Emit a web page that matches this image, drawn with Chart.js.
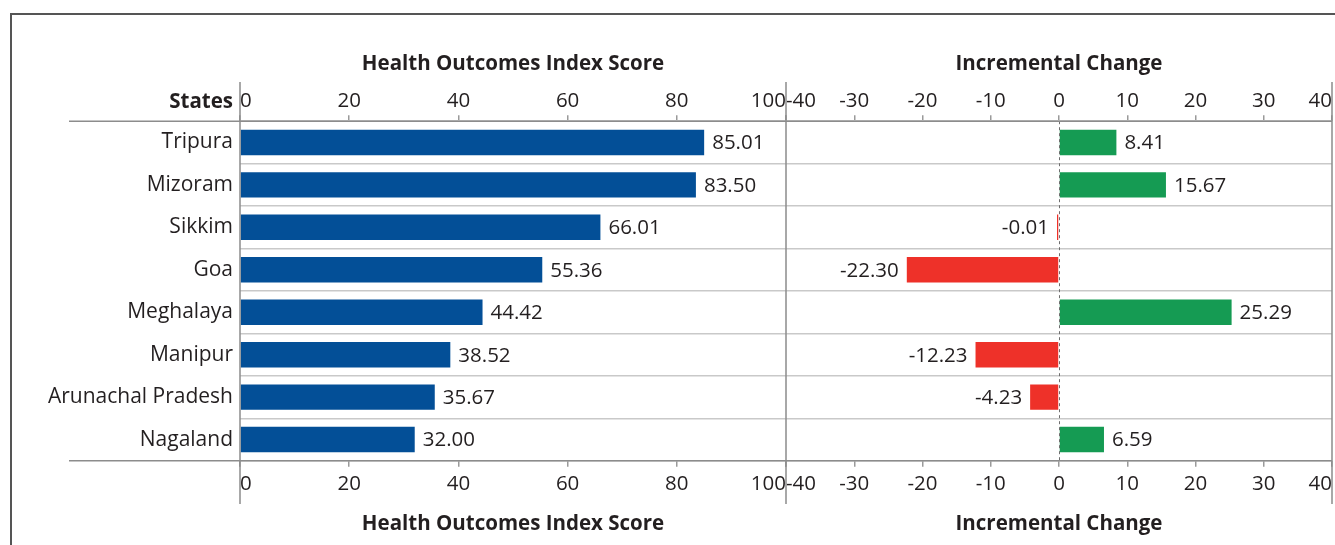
<!DOCTYPE html>
<html>
<head>
<meta charset="utf-8">
<script src="https://cdn.jsdelivr.net/npm/chart.js@4.4.1/dist/chart.umd.min.js"></script>
<style>
  html, body { margin: 0; padding: 0; background: #fff; }
  #wrap { width: 1335px; height: 545px; position: relative; }
</style>
</head>
<body>
<div id="wrap"><canvas id="chart" width="1335" height="545"></canvas></div>
<script>
// data
const states = ["Tripura", "Mizoram", "Sikkim", "Goa", "Meghalaya", "Manipur", "Arunachal Pradesh", "Nagaland"];
const scores = [85.01, 83.50, 66.01, 55.36, 44.42, 38.52, 35.67, 32.00];
const changes = [8.41, 15.67, -0.01, -22.30, 25.29, -12.23, -4.23, 6.59];

const scoreRange = [0, 100];
const scoreStep = 20;
const changeRange = [-40, 40];
const changeStep = 10;

const scoreTitle = "Health Outcomes Index Score";
const changeTitle = "Incremental Change";
const rowHeader = "States";

const TEXT = "#231f20";
const FONT = "'Open Sans', sans-serif";
const LINE = "#8c8c8c";

const tickFont = { family: FONT, size: 20.5 };
const titleFont = { family: FONT, size: 20.5, weight: "bold" };

// one x axis (top or bottom) for either panel; weight keeps left/right order in the stack
function xAxis(range, step, pos, title, weight) {
  return {
    type: "linear",
    position: pos,
    stack: pos,
    stackWeight: 1,
    weight: weight,
    min: range[0],
    max: range[1],
    border: { display: false },
    grid: { drawOnChartArea: false, drawTicks: true, tickLength: 6, color: "#9a9a9a", lineWidth: 1.5 },
    ticks: {
      stepSize: step,
      autoSkip: false,
      maxRotation: 0,
      align: "inner",
      padding: pos === "top" ? 2 : 5,
      color: TEXT,
      font: tickFont,
    },
    title: {
      display: true,
      text: title,
      color: TEXT,
      font: titleFont,
      padding: pos === "top" ? { top: 0, bottom: 10 } : { top: 10, bottom: 0 },
    },
    afterFit(scale) {
      // labels are aligned inside, so no side padding is needed
      scale.paddingLeft = 0;
      scale.paddingRight = 0;
    },
  };
}

const framePlugin = {
  id: "frame",
  afterDatasetsDraw(chart) {
    const ctx = chart.ctx;
    const area = chart.chartArea;
    const xR = chart.scales.xR;
    // dashed zero line of the change panel
    const zx = Math.round(xR.getPixelForValue(0)) + 0.5;
    ctx.save();
    ctx.strokeStyle = "#6e6e6e";
    ctx.lineWidth = 1;
    ctx.setLineDash([3, 3]);
    ctx.beginPath();
    ctx.moveTo(zx, area.top);
    ctx.lineTo(zx, area.bottom);
    ctx.stroke();
    ctx.restore();

    // value labels next to each bar
    ctx.save();
    ctx.font = "20.5px " + FONT;
    ctx.fillStyle = TEXT;
    ctx.textBaseline = "middle";
    chart.data.datasets.forEach((ds, di) => {
      const meta = chart.getDatasetMeta(di);
      meta.data.forEach((bar, i) => {
        const v = ds.data[i];
        const label = v.toFixed(2);
        if (v >= 0) {
          ctx.textAlign = "left";
          ctx.fillText(label, bar.x + 8, bar.y + 1);
        } else {
          ctx.textAlign = "right";
          ctx.fillText(label, bar.x - 8, bar.y + 1);
        }
      });
    });
    ctx.restore();
  },
  afterDraw(chart) {
    const ctx = chart.ctx;
    const area = chart.chartArea;
    const xL = chart.scales.xL;
    const xR = chart.scales.xR;
    ctx.save();
    // outer frame
    ctx.strokeStyle = "#555";
    ctx.lineWidth = 2;
    ctx.beginPath();
    ctx.moveTo(11, 560);
    ctx.lineTo(11, 14);
    ctx.lineTo(1350, 14);
    ctx.stroke();

    ctx.strokeStyle = LINE;
    ctx.lineWidth = 1.5;
    ctx.beginPath();
    ctx.moveTo(69, area.top);
    ctx.lineTo(area.right, area.top);
    ctx.moveTo(69, area.bottom);
    ctx.lineTo(area.right, area.bottom);
    [xL.left, xL.right, xR.right].forEach((x) => {
      ctx.moveTo(x, 82);
      ctx.lineTo(x, 504);
    });
    ctx.stroke();

    ctx.fillStyle = TEXT;
    ctx.font = "bold 20.5px " + FONT;
    ctx.textAlign = "right";
    ctx.textBaseline = "middle";
    ctx.fillText(rowHeader, area.left - 7, 102);
    ctx.restore();
  },
};

new Chart(document.getElementById("chart"), {
  type: "bar",
  data: {
    labels: states,
    datasets: [
      {
        label: scoreTitle,
        data: scores,
        xAxisID: "xL",
        backgroundColor: "#034f97",
        grouped: false,
        barPercentage: 0.6,
        categoryPercentage: 1,
      },
      {
        label: changeTitle,
        data: changes,
        xAxisID: "xR",
        backgroundColor: changes.map((v) => (v >= 0 ? "#159b53" : "#ee3129")),
        grouped: false,
        barPercentage: 0.6,
        categoryPercentage: 1,
        minBarLength: 2,
      },
    ],
  },
  options: {
    indexAxis: "y",
    responsive: false,
    animation: false,
    devicePixelRatio: 1,
    layout: { padding: { top: 52, left: 40, right: 3, bottom: 9 } },
    plugins: { legend: { display: false }, tooltip: { enabled: false } },
    scales: {
      xL: xAxis(scoreRange, scoreStep, "top", scoreTitle, 1),
      xR: xAxis(changeRange, changeStep, "top", changeTitle, 0),
      xLb: xAxis(scoreRange, scoreStep, "bottom", scoreTitle, 0),
      xRb: xAxis(changeRange, changeStep, "bottom", changeTitle, 1),
      y: {
        type: "category",
        position: "left",
        border: { display: false },
        grid: { color: "#c9c9c9", lineWidth: 1.5, drawTicks: false },
        ticks: { color: TEXT, font: { family: FONT, size: 21 }, padding: 7 },
        afterFit(scale) {
          scale.width = 200;
        },
      },
    },
  },
  plugins: [framePlugin],
});
</script>
</body>
</html>
